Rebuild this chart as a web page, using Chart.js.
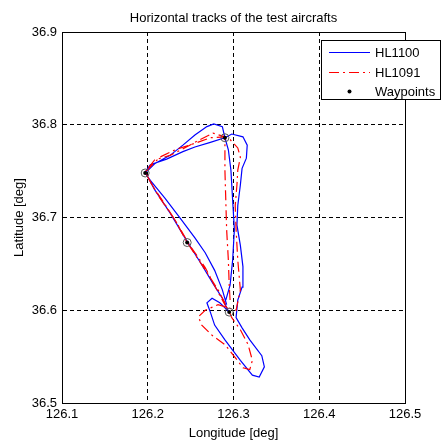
<!DOCTYPE html>
<html lang="en">
<head>
<meta charset="UTF-8">
<title>Horizontal tracks of the test aircrafts</title>
<script src="https://cdn.jsdelivr.net/npm/chart.js@4.4.0/dist/chart.umd.min.js"></script>
<style>
  html, body { margin: 0; padding: 0; background: #fff; }
</style>
</head>
<body>
<canvas id="myChart" width="444" height="443"></canvas>
<script>
// HL1100 track (longitude / latitude, deg)
const hl1100Lon = [126.291, 126.296, 126.299, 126.301, 126.299, 126.297, 126.294, 126.290,
  126.273, 126.255, 126.241, 126.222, 126.203, 126.197,
  126.208, 126.226, 126.246, 126.261, 126.276, 126.287, 126.294,
  126.284, 126.275, 126.269, 126.273, 126.278, 126.290, 126.308, 126.322, 126.330, 126.336,
  126.333, 126.319, 126.310, 126.303,
  126.305, 126.310, 126.311, 126.308, 126.304, 126.305, 126.308, 126.310, 126.315, 126.316,
  126.311, 126.298, 126.290,
  126.287, 126.277, 126.269, 126.255, 126.241, 126.226, 126.208, 126.197,
  126.203, 126.220, 126.238, 126.255, 126.267, 126.278, 126.287, 126.292];
const hl1100Lat = [36.611, 36.627, 36.654, 36.687, 36.719, 36.751, 36.773, 36.786,
  36.781, 36.776, 36.771, 36.763, 36.757, 36.749,
  36.730, 36.705, 36.674, 36.652, 36.629, 36.613, 36.599,
  36.608, 36.613, 36.608, 36.598, 36.584, 36.568, 36.546, 36.530, 36.528, 36.539,
  36.551, 36.568, 36.581, 36.592,
  36.611, 36.625, 36.647, 36.670, 36.692, 36.713, 36.735, 36.753, 36.764, 36.778,
  36.787, 36.790, 36.786,
  36.798, 36.801, 36.798, 36.789, 36.778, 36.767, 36.758, 36.748,
  36.740, 36.721, 36.699, 36.678, 36.662, 36.643, 36.622, 36.606];

// HL1091 track
const hl1091Lon = [126.296, 126.295, 126.294, 126.292, 126.291, 126.290, 126.290, 126.290,
  126.276, 126.261, 126.243, 126.226, 126.208, 126.197,
  126.205, 126.218, 126.232, 126.246, 126.261, 126.273, 126.282, 126.291,
  126.298, 126.308, 126.317, 126.322, 126.319, 126.311, 126.302, 126.290, 126.275, 126.263, 126.259,
  126.267, 126.282, 126.296, 126.303,
  126.308, 126.305, 126.303, 126.302, 126.304, 126.305, 126.308, 126.305, 126.296, 126.290,
  126.273, 126.255, 126.232, 126.214, 126.197,
  126.212, 126.232, 126.249, 126.267, 126.284, 126.294];
const hl1091Lat = [36.611, 36.627, 36.654, 36.687, 36.719, 36.751, 36.773, 36.787,
  36.791, 36.784, 36.775, 36.767, 36.762, 36.749,
  36.735, 36.717, 36.697, 36.673, 36.652, 36.635, 36.622, 36.606,
  36.592, 36.579, 36.563, 36.546, 36.536, 36.538, 36.549, 36.563, 36.573, 36.584, 36.593,
  36.600, 36.606, 36.602, 36.600,
  36.622, 36.654, 36.687, 36.713, 36.735, 36.751, 36.765, 36.775, 36.784, 36.787,
  36.786, 36.780, 36.773, 36.765, 36.749,
  36.724, 36.697, 36.670, 36.646, 36.616, 36.599];

// waypoints
const wpLon = [126.197, 126.246, 126.290, 126.295];
const wpLat = [36.748, 36.673, 36.786, 36.598];

const lonTicks = [126.1, 126.2, 126.3, 126.4, 126.5];
const latTicks = [36.5, 36.6, 36.7, 36.8, 36.9];

const chartTitle = 'Horizontal tracks of the test aircrafts';

const FONT = '"Liberation Sans", Arial, sans-serif';
const FS = 13;

function toPoints(xs, ys) {
  return xs.map((x, i) => ({ x: x, y: ys[i] }));
}

// solid box round the axes, title centred over the axes
const axesBox = {
  id: 'axesBox',
  afterDatasetsDraw(chart) {
    const { ctx, chartArea: a } = chart;
    ctx.save();
    ctx.strokeStyle = '#000';
    ctx.lineWidth = 1;
    ctx.setLineDash([]);
    ctx.strokeRect(Math.round(a.left) + 0.5, Math.round(a.top) + 0.5,
      Math.round(a.right - a.left), Math.round(a.bottom - a.top));
    ctx.fillStyle = '#000';
    ctx.font = FS + 'px ' + FONT;
    ctx.textAlign = 'center';
    ctx.textBaseline = 'middle';
    ctx.fillText(chartTitle, (a.left + a.right) / 2, a.top - 14);
    ctx.restore();
  }
};

// matlab style legend box in the upper right corner
const boxLegend = {
  id: 'boxLegend',
  afterDraw(chart) {
    const { ctx, chartArea: a } = chart;
    const items = chart.data.datasets.filter(d => d.label);
    const x0 = Math.round(a.right) - 84, y0 = Math.round(a.top) + 8;
    const w = 119, rowH = 19.5;
    const h = Math.round(items.length * rowH);
    ctx.save();
    ctx.fillStyle = '#fff';
    ctx.fillRect(x0, y0, w, h);
    ctx.strokeStyle = '#000';
    ctx.lineWidth = 1;
    ctx.strokeRect(x0 + 0.5, y0 + 0.5, w, h);
    ctx.font = FS + 'px ' + FONT;
    ctx.textBaseline = 'middle';
    items.forEach((d, i) => {
      const cy = Math.round(y0 + 12 + i * rowH);
      if (d.showLine) {
        ctx.strokeStyle = d.borderColor;
        ctx.lineWidth = d.borderWidth;
        ctx.setLineDash(d.borderDash || []);
        ctx.beginPath();
        ctx.moveTo(x0 + 8, cy + 0.5);
        ctx.lineTo(x0 + 49, cy + 0.5);
        ctx.stroke();
        ctx.setLineDash([]);
      } else {
        ctx.fillStyle = d.backgroundColor;
        ctx.beginPath();
        ctx.arc(x0 + 28.5, cy + 0.5, 2, 0, Math.PI * 2);
        ctx.fill();
      }
      ctx.fillStyle = '#000';
      ctx.fillText(d.label, x0 + 54, cy + 1);
    });
    ctx.restore();
  }
};

const ctx = document.getElementById('myChart').getContext('2d');
const myChart = new Chart(ctx, {
  type: 'scatter',
  data: {
    datasets: [
      {
        label: 'HL1100',
        data: toPoints(hl1100Lon, hl1100Lat),
        showLine: true,
        borderColor: '#0000ff',
        borderWidth: 1.2,
        pointRadius: 0,
        order: 3
      },
      {
        label: 'HL1091',
        data: toPoints(hl1091Lon, hl1091Lat),
        showLine: true,
        borderColor: '#ff0000',
        borderWidth: 1.2,
        borderDash: [10, 4, 2, 4],
        pointRadius: 0,
        order: 2
      },
      {
        label: 'Waypoints',
        data: toPoints(wpLon, wpLat),
        showLine: false,
        backgroundColor: '#000',
        borderColor: '#000',
        pointRadius: 2,
        borderWidth: 0,
        order: 0
      },
      {
        label: '',
        data: toPoints(wpLon, wpLat),
        showLine: false,
        backgroundColor: 'rgba(0,0,0,0)',
        borderColor: '#555',
        pointRadius: 4,
        borderWidth: 1,
        order: 1
      }
    ]
  },
  options: {
    responsive: false,
    animation: false,
    layout: { padding: { left: 0, right: 39, top: 32, bottom: 0 } },
    plugins: {
      legend: { display: false },
      tooltip: { enabled: false },
      title: { display: false }
    },
    scales: {
      x: {
        type: 'linear',
        min: 126.1,
        max: 126.5,
        afterBuildTicks: s => { s.ticks = lonTicks.map(v => ({ value: v })); },
        afterFit: s => { s.height = 40; },
        grid: { color: '#000', lineWidth: 1, drawTicks: false },
        border: { display: true, color: '#000', dash: [4, 3] },
        ticks: {
          color: '#000',
          padding: 4,
          maxRotation: 0,
          font: { family: FONT, size: FS },
          callback: v => v.toFixed(1)
        },
        title: {
          display: true,
          text: 'Longitude [deg]',
          color: '#000',
          font: { family: FONT, size: FS },
          padding: { top: 0, bottom: 2 }
        }
      },
      y: {
        type: 'linear',
        min: 36.5,
        max: 36.9,
        afterBuildTicks: s => { s.ticks = latTicks.map(v => ({ value: v })); },
        afterFit: s => { s.width = 62; },
        grid: { color: '#000', lineWidth: 1, drawTicks: false },
        border: { display: true, color: '#000', dash: [4, 3] },
        ticks: {
          color: '#000',
          padding: 5,
          font: { family: FONT, size: FS },
          callback: v => v.toFixed(1)
        },
        title: {
          display: true,
          text: 'Latitude [deg]',
          color: '#000',
          font: { family: FONT, size: FS },
          padding: { top: 12, bottom: 0 }
        }
      }
    }
  },
  plugins: [axesBox, boxLegend]
});
</script>
</body>
</html>
